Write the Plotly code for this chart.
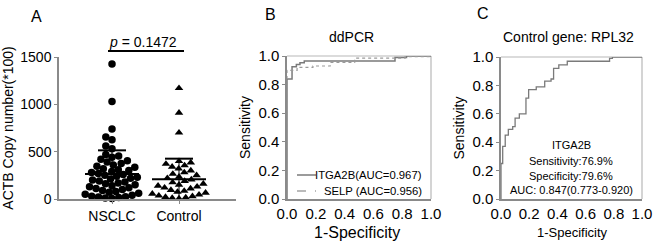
import math
import plotly.graph_objects as go

# ---------------- data ----------------
groups = ["NSCLC", "Control"]
nsclc_values = [1425, 1030, 740, 655, 625, 560, 530,
                470, 455, 440, 420, 405,
                390, 375, 360, 345, 335, 320, 310, 300,
                290, 280, 270, 260, 250, 240, 230, 220, 210, 200,
                190, 180, 170, 160, 150, 140, 130, 120, 110, 100,
                90, 80, 70, 60, 50, 40, 30, 25, 20, 15, 10, 5]
control_values = [1170, 910, 700,
                  400, 385, 370, 355, 340, 320, 300,
                  280, 265, 250, 235, 220, 205,
                  190, 175, 160, 150, 140, 130, 120, 110,
                  95, 85, 75, 65, 55, 45, 35, 28, 20, 15, 10, 5]
group_means = [264, 208]
group_sds = [250, 218]
p_text = "<i>p</i> = 0.1472"

# panel B ROC (ddPCR)
b_itga2b_fpr = [0, 0, 0.035, 0.065, 0.09, 0.12, 0.75, 0.83, 1.0]
b_itga2b_tpr = [0, 0.84, 0.925, 0.94, 0.953, 0.965, 0.99, 1.0, 1.0]
b_selp_fpr = [0, 0, 0.07, 0.18, 0.30, 0.47, 0.82, 1.0]
b_selp_tpr = [0, 0.90, 0.92, 0.93, 0.955, 0.985, 0.995, 1.0]
b_names = ["ITGA2B(AUC=0.967)", "SELP (AUC=0.956)"]

# panel C ROC (RPL32)
c_fpr = [0, 0, 0.012, 0.03, 0.052, 0.083, 0.10, 0.13, 0.177, 0.196, 0.25, 0.31, 0.355,
         0.373, 0.41, 0.47, 0.77, 0.79, 1.0]
c_tpr = [0, 0.25, 0.37, 0.45, 0.49, 0.51, 0.57, 0.60, 0.71, 0.77, 0.79, 0.83, 0.845,
         0.92, 0.945, 0.97, 0.99, 1.0, 1.0]
c_text = ["ITGA2B", "Sensitivity:76.9%", "Specificity:79.6%", "AUC: 0.847(0.773-0.920)"]

roc_ticks = [0.0, 0.2, 0.4, 0.6, 0.8, 1.0]
roc_ticklabels = ["0.0", "0.2", "0.4", "0.6", "0.8", "1.0"]

# ---------------- layout helpers ----------------
W, H = 654, 251
def px(x):
    return x / W
def py(y):
    return 1 - y / H

FONT = "Liberation Sans, Arial, sans-serif"
AXC = "#8a8a8a"
FRAME = "#b8b8b8"
ROC = "#7a7a7a"

# panel A geometry (pixels)
a_left, a_right, a_bottom, a_top = 59, 236, 199, 57
cat_px = [112, 179]
px_per_unit = cat_px[1] - cat_px[0]
a_xrange = [1 - (cat_px[0] - a_left) / px_per_unit, 2 + (a_right - cat_px[1]) / px_per_unit]
a_yrange = [0, 1500]
px_per_val = (a_bottom - a_top) / (a_yrange[1] - a_yrange[0])


def beeswarm(values, diam):
    """deterministic beeswarm: returns x offsets in pixels"""
    order = sorted(range(len(values)), key=lambda i: values[i])
    placed = []
    xs = [0.0] * len(values)
    for i in order:
        yv = values[i] * px_per_val
        intervals = []
        for (xp, yp) in placed:
            dy = abs(yv - yp)
            if dy < diam:
                dx = math.sqrt(diam * diam - dy * dy)
                intervals.append((xp - dx, xp + dx))
        cands = [0.0] + [a for a, b in intervals] + [b for a, b in intervals]
        cands.sort(key=lambda c: (abs(c), c))
        for c in cands:
            if all(not (a + 1e-6 < c < b - 1e-6) for a, b in intervals):
                xs[i] = c
                break
        placed.append((xs[i], yv))
    return xs


fig = go.Figure()

# ---- panel A ----
for gi, (vals, sym) in enumerate([(nsclc_values, "circle"), (control_values, "triangle-up")]):
    offs = beeswarm(vals, 6.8)
    fig.add_trace(go.Scatter(
        x=[gi + 1 + o / px_per_unit for o in offs], y=vals, mode="markers",
        marker=dict(symbol=sym, size=7.5, color="black"),
        xaxis="x", yaxis="y", showlegend=False, cliponaxis=False))
    m, s = group_means[gi], group_sds[gi]
    c = gi + 1
    fig.add_trace(go.Scatter(x=[c - 27 / px_per_unit, c + 27 / px_per_unit], y=[m, m],
                             mode="lines", line=dict(color="black", width=2),
                             xaxis="x", yaxis="y", showlegend=False))
    fig.add_trace(go.Scatter(x=[c - 14 / px_per_unit, c + 14 / px_per_unit], y=[m + s, m + s],
                             mode="lines", line=dict(color="black", width=2),
                             xaxis="x", yaxis="y", showlegend=False))
    fig.add_trace(go.Scatter(x=[c, c], y=[max(m - s, 0), m + s],
                             mode="lines", line=dict(color="black", width=1),
                             xaxis="x", yaxis="y", showlegend=False))

# ---- panel B ----
fig.add_trace(go.Scatter(x=b_itga2b_fpr, y=b_itga2b_tpr, mode="lines", line_shape="hv",
                         line=dict(color=ROC, width=1.5), name=b_names[0], showlegend=False,
                         xaxis="x2", yaxis="y2"))
fig.add_trace(go.Scatter(x=b_selp_fpr, y=b_selp_tpr, mode="lines", line_shape="hv",
                         line=dict(color="#9a9a9a", width=1.2, dash="dot"), name=b_names[1],
                         showlegend=False, xaxis="x2", yaxis="y2"))

# ---- panel C ----
fig.add_trace(go.Scatter(x=c_fpr, y=c_tpr, mode="lines", line_shape="hv",
                         line=dict(color=ROC, width=1.3), showlegend=False,
                         xaxis="x3", yaxis="y3"))

axis_common = dict(showline=True, linecolor=AXC, linewidth=1.5, showgrid=False, zeroline=False,
                   ticks="outside", ticklen=3, tickcolor=AXC, automargin=False)
roc_x_axis = dict(showline=True, linecolor=AXC, linewidth=1.5, showgrid=False, zeroline=False,
                  ticks="", automargin=False)

roc_bottom, roc_top_b, roc_top_c = 199, 56, 57

fig.update_layout(
    template="none",
    width=W, height=H, margin=dict(l=0, r=0, t=0, b=0, pad=0, autoexpand=False),
    paper_bgcolor="white", plot_bgcolor="white",
    font=dict(family=FONT, color="black"),
    showlegend=False,
    xaxis=dict(domain=[px(a_left), px(a_right)], range=a_xrange, tickvals=[1, 2],
               ticktext=groups, tickfont=dict(size=14), anchor="y", **axis_common),
    yaxis=dict(domain=[py(a_bottom), py(a_top)], range=a_yrange, tickvals=[0, 500, 1000, 1500],
               tickfont=dict(size=14), anchor="x",
               title=dict(text="ACTB Copy number(*100)", font=dict(size=14), standoff=6),
               **axis_common),
    xaxis2=dict(domain=[px(287), px(431)], range=[0, 1], tickvals=roc_ticks, ticktext=roc_ticklabels,
                tickfont=dict(size=15), anchor="y2", **roc_x_axis),
    yaxis2=dict(domain=[py(roc_bottom), py(roc_top_b)], range=[0, 1], tickvals=roc_ticks,
                ticktext=roc_ticklabels, tickfont=dict(size=15), anchor="x2",
                title=dict(text="Sensitivity", font=dict(size=14), standoff=4),
                **axis_common),
    xaxis3=dict(domain=[px(501), px(642)], range=[0, 1], tickvals=roc_ticks, ticktext=roc_ticklabels,
                tickfont=dict(size=15), anchor="y3", **roc_x_axis),
    yaxis3=dict(domain=[py(roc_bottom), py(roc_top_c)], range=[0, 1], tickvals=roc_ticks,
                ticktext=roc_ticklabels, tickfont=dict(size=15), anchor="x3",
                title=dict(text="Sensitivity", font=dict(size=14), standoff=4),
                **axis_common),
)

# frames (top/right) for ROC panels
for xr, yr in [("x2", "y2"), ("x3", "y3")]:
    fig.add_shape(type="line", xref=f"{xr} domain", yref=f"{yr} domain", x0=0, x1=1, y0=1, y1=1,
                  line=dict(color=FRAME, width=1.2), layer="below")
    fig.add_shape(type="line", xref=f"{xr} domain", yref=f"{yr} domain", x0=1, x1=1, y0=0, y1=1,
                  line=dict(color=FRAME, width=1.2), layer="below")


def text_at(x, y, t, size, xanchor="center"):
    fig.add_annotation(x=px(x), y=py(y), xref="paper", yref="paper", text=t, showarrow=False,
                       xanchor=xanchor, yanchor="middle", font=dict(size=size),
                       borderpad=0, borderwidth=0)


# p-value bracket
fig.add_shape(type="line", xref="paper", yref="paper", x0=px(108), x1=px(184), y0=py(51), y1=py(51),
              line=dict(color="black", width=2))
text_at(143, 42, p_text, 14)

# panel letters and titles
for letter, x, y in [("A", 36, 17), ("B", 270, 15), ("C", 483, 14)]:
    text_at(x, y, letter, 16)
text_at(352, 37, "ddPCR", 14)
text_at(568, 37, "Control gene: RPL32", 14)

# x-axis titles of the ROC panels
text_at(357, 232, "1-Specificity", 16)
text_at(572, 232, "1-Specificity", 13)

# panel B legend (line samples + labels)
legend_rows = [(175, dict(color=ROC, width=1.5)), (191, dict(color="#777777", width=1.2, dash="dash"))]
for (y, ln), name in zip(legend_rows, b_names):
    fig.add_shape(type="line", xref="paper", yref="paper", x0=px(297), x1=px(316),
                  y0=py(y), y1=py(y), line=ln)
    text_at(422, y, name, 11.3, xanchor="right")

# panel C annotation block
for t, y in zip(c_text, [144.5, 161, 176, 190]):
    text_at(571, y, t, 11)

fig.write_html("out.html", config={"displayModeBar": False},
               post_script="document.body.style.margin='0';")
